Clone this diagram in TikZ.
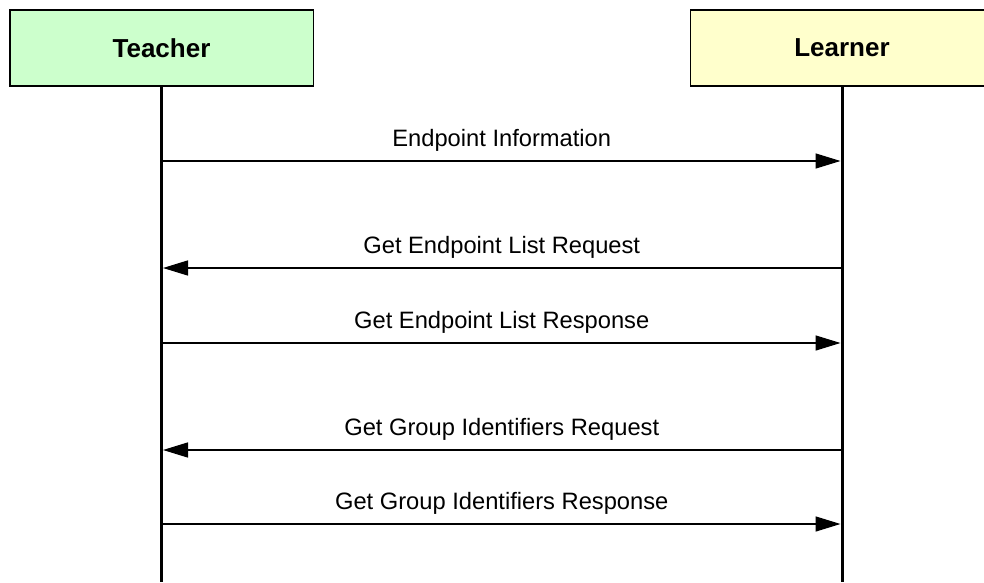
\documentclass[tikz,border=0pt]{standalone}
\usepackage{fontspec}
\setmainfont{Liberation Sans}
\usetikzlibrary{arrows.meta}
\definecolor{tfill}{HTML}{CCFFCC}
\definecolor{lfill}{HTML}{FFFFCC}
\tikzset{
  actor/.style={draw=black, line width=1.5pt, minimum width=303.5pt, minimum height=76pt, inner sep=0pt, font=\fontsize{26}{30}\selectfont\bfseries},
  lifeline/.style={line width=3pt},
  msg/.style={line width=1.5pt, -{Triangle[length=25pt,width=15pt]}},
  msglabel/.style={font=\fontsize{23.7}{28}\selectfont, anchor=base, inner sep=0pt, yshift=14.5pt}
}
\begin{document}
\begin{tikzpicture}[x=1pt,y=1pt]
\useasboundingbox[fill=white] (0,0) rectangle (984,582);
\begin{scope}
\clip (0,0) rectangle (984,582);
\node[actor, fill=tfill] (teacher) at (161.5,534) {Teacher};
\node[actor, fill=lfill] (learner) at (842,534) {Learner};
\coordinate (tend) at (161.5,0);
\coordinate (lend) at (842,0);
\draw[lifeline] (teacher.south) -- (tend);
\draw[lifeline] (learner.south) -- (lend);

\coordinate (t1) at (163,421); \coordinate (l1) at (840.5,421);
\coordinate (t2) at (163,314); \coordinate (l2) at (840.5,314);
\coordinate (t3) at (163,239); \coordinate (l3) at (840.5,239);
\coordinate (t4) at (163,132); \coordinate (l4) at (840.5,132);
\coordinate (t5) at (163,58);  \coordinate (l5) at (840.5,58);

\draw[msg] (t1) -- node[msglabel] (m1) {Endpoint Information} (l1);
\draw[msg] (l2) -- node[msglabel] (m2) {Get Endpoint List Request} (t2);
\draw[msg] (t3) -- node[msglabel] (m3) {Get Endpoint List Response} (l3);
\draw[msg] (l4) -- node[msglabel] (m4) {Get Group Identifiers Request} (t4);
\draw[msg] (t5) -- node[msglabel] (m5) {Get Group Identifiers Response} (l5);
\end{scope}
\end{tikzpicture}
\end{document}
